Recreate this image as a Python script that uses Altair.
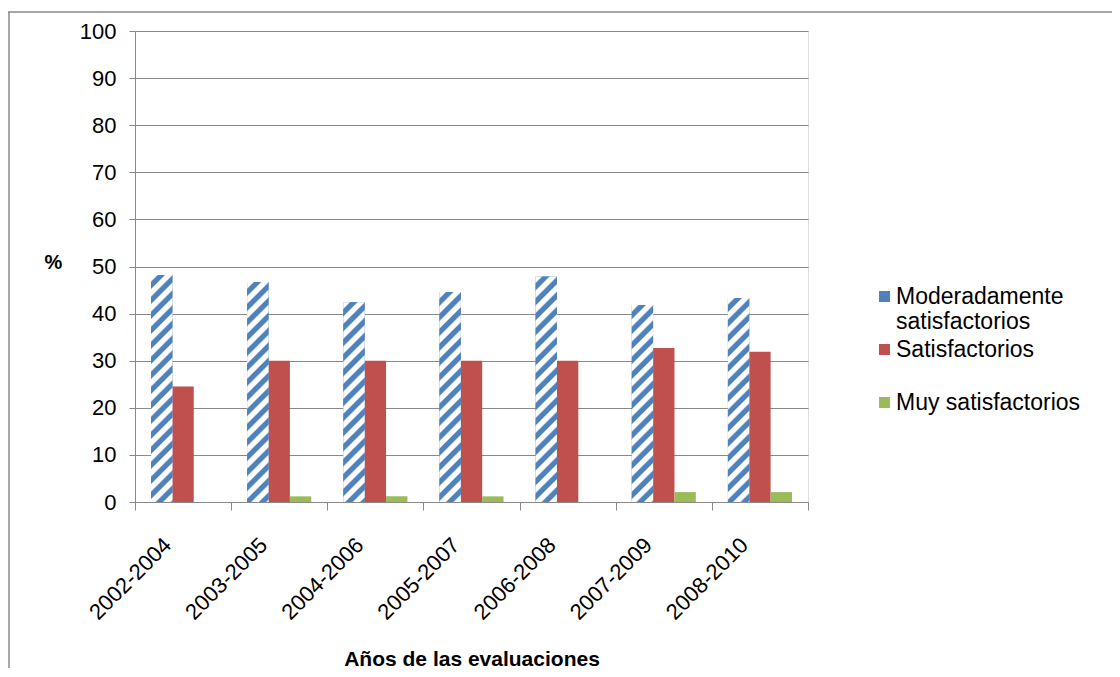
import altair as alt
import pandas as pd

periodos = ["2002-2004", "2003-2005", "2004-2006", "2005-2007", "2006-2008", "2007-2009", "2008-2010"]
series = ["Moderadamente satisfactorios", "Satisfactorios", "Muy satisfactorios"]
moderados = [48.2, 46.7, 42.4, 44.6, 47.9, 41.8, 43.3]
satisfactorios = [24.5, 30.0, 30.0, 30.0, 30.0, 32.7, 31.9]
muy_satisfactorios = [0.0, 1.2, 1.2, 1.2, 0.0, 2.1, 2.1]
colores = ["#4F81BD", "#C0504D", "#9BBB59"]

rows = []
for i, p in enumerate(periodos):
    for s, vals in zip(series, [moderados, satisfactorios, muy_satisfactorios]):
        rows.append({"periodo": p, "serie": s, "valor": vals[i]})
df = pd.DataFrame(rows)

# diagonal stripe fill for the hatched series (linear gradient with many stops)
S = 300.0
P = 15.0
n = int(S / P) + 1
stops = []
for k in range(n):
    o = k * P / S
    for frac, col in [(0.0, "#ffffff"), (0.38, "#ffffff"), (0.5, "#4F81BD"), (0.88, "#4F81BD")]:
        off = o + frac * P / S
        if off <= 1.0:
            stops.append("{offset: %.5f, color: '%s'}" % (off, col))
w = "bandwidth('xOffset')"
h = "(scale('y', 0) - scale('y', datum.valor))"
den = "(%s*%s + %s*%s)" % (w, w, h, h)
grad_expr = "{gradient: 'linear', x1: 0, y1: 0, x2: %g*%s/%s, y2: %g*%s/%s, stops: [%s]}" % (
    S, w, den, S, h, den, ", ".join(stops))

FONT = "Liberation Sans"
GRID = "#898989"

x_enc = alt.X(
    "periodo:N", sort=periodos,
    scale=alt.Scale(paddingInner=0, paddingOuter=0),
    axis=alt.Axis(
        title="Años de las evaluaciones", labelAngle=-45, labelFontSize=22,
        labelFont=FONT, labelColor="#000000", labelPadding=24, labelOffset=-23,
        tickBand="extent", tickSize=8, tickColor=GRID, domainColor=GRID,
        titleFont=FONT, titleFontSize=21, titleFontWeight="bold", titleColor="#000000",
        titleY=163, titleBaseline="alphabetic",
    ),
)
xo_enc = alt.XOffset("serie:N", sort=series,
                     scale=alt.Scale(domain=series, paddingInner=0, paddingOuter=0.75))
y_enc = alt.Y(
    "valor:Q",
    scale=alt.Scale(domain=[0, 100], nice=False),
    axis=alt.Axis(
        title="%", values=list(range(0, 101, 10)), labelFont=FONT, labelFontSize=22,
        labelColor="#000000", labelPadding=13, tickSize=6, tickColor=GRID,
        domainColor=GRID, gridColor=GRID, gridWidth=1,
        titleFont=FONT, titleFontSize=20, titleFontWeight="bold", titleColor="#000000",
        titleAngle=0, titleX=-82, titleY=231, titleAlign="center", titleBaseline="middle",
    ),
)

base = alt.Chart(df).encode(x=x_enc, xOffset=xo_enc, y=y_enc)

bars = base.mark_bar().encode(
    color=alt.Color(
        "serie:N", sort=series,
        scale=alt.Scale(domain=series, range=colores),
        legend=alt.Legend(
            title=None, orient="none", legendX=738, legendY=254,
            symbolType="square", symbolSize=121, symbolStrokeWidth=0,
            labelFont=FONT, labelFontSize=23, labelColor="#000000", labelLimit=400,
            labelOffset=0, rowPadding=4, gridAlign="all",
            labelExpr="datum.label == 'Moderadamente satisfactorios' ? ['Moderadamente', 'satisfactorios'] : datum.label",
        ),
    )
)

hatch = base.transform_filter(
    alt.datum.serie == "Moderadamente satisfactorios"
).mark_bar(fill={"expr": grad_expr})

frame_df = pd.DataFrame({"k": [0]})
frame_v = alt.Chart(frame_df).mark_rule(color="#8a8a8a", strokeWidth=1.5).encode(
    x=alt.value(-126), y=alt.value(-19), y2=alt.value(700)
)
frame_h = alt.Chart(frame_df).mark_rule(color="#8a8a8a", strokeWidth=1.5).encode(
    x=alt.value(-127), x2=alt.value(1000), y=alt.value(-19)
)

chart = alt.layer(bars, hatch, frame_v, frame_h).properties(
    width=673, height=471,
    autosize=alt.AutoSizeParams(type="none"),
    padding={"left": 127, "top": 23, "right": 304, "bottom": 166},
).configure_view(stroke=None).configure(background="white")

chart.save("out.html", embed_options={"renderer": "svg", "actions": False})
